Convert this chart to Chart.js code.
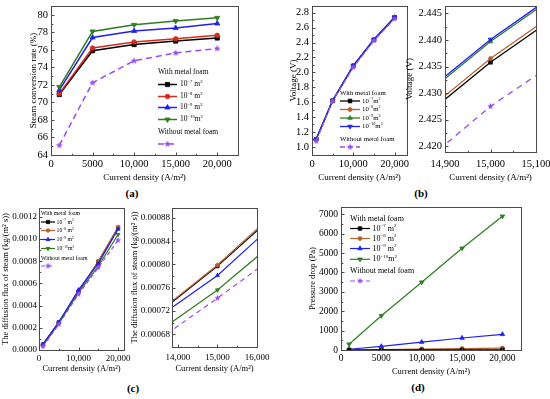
<!DOCTYPE html>
<html><head><meta charset="utf-8">
<script src="https://cdn.jsdelivr.net/npm/chart.js@4.4.0/dist/chart.umd.min.js"></script>
<style>
html,body{margin:0;padding:0;background:#fff;width:550px;height:399px;overflow:hidden;position:relative;}
canvas{position:absolute;}
.lab{position:absolute;font:bold 11px "Liberation Serif","Times New Roman",serif;transform:translate(-50%,-50%);color:#000;white-space:nowrap;}
</style></head><body>
<div class="lab" style="left:132px;top:193px">(a)</div>
<div class="lab" style="left:421px;top:193px">(b)</div>
<div class="lab" style="left:133px;top:388px">(c)</div>
<div class="lab" style="left:418px;top:387px">(d)</div>
<script>
// ---------------- data ----------------
const currentDensity = [1000, 5000, 10000, 15000, 20000];
const permLabels = ['10|−7| m|2|', '10|−8| m|2|', '10|−9| m|2|', '10|−10|m|2|'];
const permLabelsB = ['10|−7|m|2|', '10|−8|m|2|', '10|−9|m|2|', '10|−10|m|2|'];

// (a) steam conversion rate (%)
const convE7   = [70.9, 75.9, 76.6, 77.0, 77.35];
const convE8   = [71.0, 76.2, 76.9, 77.25, 77.65];
const convE9   = [71.4, 77.4, 78.15, 78.5, 79.0];
const convE10  = [71.75, 78.1, 78.85, 79.3, 79.65];
const convNone = [65.1, 72.25, 74.75, 75.65, 76.15];

// (b) voltage (V)
const voltE7   = [1.10, 1.62, 2.0858, 2.4358, 2.7358];
const voltE8   = [1.10, 1.62, 2.0865, 2.4365, 2.7365];
const voltE9   = [1.10, 1.62, 2.0897, 2.4397, 2.7397];
const voltE10  = [1.10, 1.62, 2.0901, 2.4401, 2.7401];
const voltNone = [1.075, 1.615, 2.0675, 2.4275, 2.7175];

// (c) diffusion flux of steam (kg/(m2 s))
const fluxE7   = [0.00005, 0.00025, 0.000527, 0.000797, 0.001102];
const fluxE8   = [0.00005, 0.00025, 0.000528, 0.000799, 0.001108];
const fluxE9   = [0.00005, 0.00025, 0.000542, 0.000781, 0.00109];
const fluxE10  = [0.00004, 0.00024, 0.000517, 0.000756, 0.001041];
const fluxNone = [0.00003, 0.00023, 0.000503, 0.000742, 0.00099];

// (d) pressure drop (Pa)
const presE7   = [1, 3, 5, 7, 9];
const presE8   = [5, 25, 50, 75, 100];
const presE9   = [40, 190, 410, 620, 810];
const presE10  = [300, 1770, 3500, 5250, 6900];
const presNone = [0, 0, 0, 0, 0];

// tick values / labels
const aXTicks = [0, 5000, 10000, 15000, 20000];
const aXLabels = ['0', '5000', '10,000', '15,000', '20,000'];
const aYTicks = [64, 66, 68, 70, 72, 74, 76, 78, 80];
const aYLabels = ['64', '66', '68', '70', '72', '74', '76', '78', '80'];
const bXTicks = [0, 10000, 20000];
const bXLabels = ['0', '10,000', '20,000'];
const bYTicks = [1.0, 1.2, 1.4, 1.6, 1.8, 2.0, 2.2, 2.4, 2.6, 2.8];
const bYLabels = ['1.0', '1.2', '1.4', '1.6', '1.8', '2.0', '2.2', '2.4', '2.6', '2.8'];
const b2XTicks = [14900, 15000, 15100];
const b2XLabels = ['14,900', '15,000', '15,100'];
const b2YTicks = [2.420, 2.425, 2.430, 2.435, 2.440, 2.445];
const b2YLabels = ['2.420', '2.425', '2.430', '2.435', '2.440', '2.445'];
const cXTicks = [0, 10000, 20000];
const cXLabels = ['0', '10,000', '20,000'];
const cYTicks = [0, 0.0002, 0.0004, 0.0006, 0.0008, 0.0010, 0.0012];
const cYLabels = ['0.0000', '0.0002', '0.0004', '0.0006', '0.0008', '0.0010', '0.0012'];
const c2XTicks = [14000, 15000, 16000];
const c2XLabels = ['14,000', '15,000', '16,000'];
const c2YTicks = [0.00068, 0.00072, 0.00076, 0.00080, 0.00084, 0.00088];
const c2YLabels = ['0.00068', '0.00072', '0.00076', '0.00080', '0.00084', '0.00088'];
const dXTicks = [0, 5000, 10000, 15000, 20000];
const dXLabels = ['0', '5000', '10,000', '15,000', '20,000'];
const dYTicks = [0, 1000, 2000, 3000, 4000, 5000, 6000, 7000];
const dYLabels = ['0', '1000', '2000', '3000', '4000', '5000', '6000', '7000'];

// ---------------- styling ----------------
const FONT = '"Liberation Serif", "Times New Roman", serif';
const C_BLACK = '#000000', C_RED = '#d42a1e', C_BROWN = '#b8602f',
      C_BLUE = '#2020f0', C_GREEN = '#2e7d22', C_PURPLE = '#9a4df0';

function starCanvas(r, color) {
  const s = Math.ceil(r * 2 + 2);
  const c = document.createElement('canvas');
  c.width = s; c.height = s;
  const g = c.getContext('2d');
  g.fillStyle = color;
  g.beginPath();
  for (let i = 0; i < 10; i++) {
    const rr = i % 2 ? r * 0.45 : r;
    const ang = -Math.PI / 2 + i * Math.PI / 5;
    g.lineTo(s / 2 + rr * Math.cos(ang), s / 2 + rr * Math.sin(ang));
  }
  g.closePath(); g.fill();
  return c;
}

function ds(label, values, color, style, rot, dash, r, lw, order) {
  return {
    label,
    data: currentDensity.map((x, i) => ({x, y: values[i]})),
    borderColor: color, backgroundColor: color,
    pointBackgroundColor: color, pointBorderColor: color,
    pointStyle: style, pointRotation: rot, pointRadius: r, pointBorderWidth: 0.8,
    borderWidth: lw, borderDash: dash, tension: 0, order: order
  };
}

const framePlugin = {
  id: 'frame',
  afterDraw(chart) {
    const {ctx, chartArea: a, scales: {x, y}} = chart;
    ctx.save();
    ctx.strokeStyle = '#4a4a4a';
    ctx.lineWidth = 1;
    const L = Math.round(a.left) + 0.5, T = Math.round(a.top) + 0.5,
          R = Math.round(a.right) + 0.5, B = Math.round(a.bottom) + 0.5;
    ctx.strokeRect(L, T, R - L, B - T);
    ctx.beginPath();
    const xt = x.ticks.map(t => t.value), yt = y.ticks.map(t => t.value);
    xt.forEach((v, i) => {
      const px = Math.round(x.getPixelForValue(v)) + 0.5;
      ctx.moveTo(px, B); ctx.lineTo(px, B - 3);
      if (i < xt.length - 1) {
        const pm = Math.round(x.getPixelForValue((v + xt[i + 1]) / 2)) + 0.5;
        ctx.moveTo(pm, B); ctx.lineTo(pm, B - 1.8);
      }
    });
    yt.forEach((v, i) => {
      const py = Math.round(y.getPixelForValue(v)) + 0.5;
      ctx.moveTo(L, py); ctx.lineTo(L + 3, py);
      if (i < yt.length - 1) {
        const pm = Math.round(y.getPixelForValue((v + yt[i + 1]) / 2)) + 0.5;
        ctx.moveTo(L, pm); ctx.lineTo(L + 1.8, pm);
      }
    });
    ctx.stroke();
    ctx.restore();
  }
};

function drawRich(ctx, str, x, y, size) {
  const parts = str.split('|');
  let cx = x;
  parts.forEach((t, i) => {
    if (!t) return;
    const sup = i % 2 === 1;
    const fs = sup ? size * 0.62 : size;
    ctx.font = fs + 'px ' + FONT;
    ctx.fillText(t, cx, sup ? y - size * 0.33 : y);
    cx += ctx.measureText(t).width;
  });
}

function legendPlugin(lg, cl, ct) {
  return {
    id: 'customLegend',
    afterDraw(chart) {
      const ctx = chart.ctx;
      const dss = chart.data.datasets;
      ctx.save();
      ctx.textBaseline = 'middle';
      ctx.textAlign = 'left';
      ctx.fillStyle = '#000';
      const X = lg.x - cl;
      ctx.font = lg.size + 'px ' + FONT;
      ctx.fillText('With metal foam', X, lg.ys[0] - ct);
      ctx.fillText('Without metal foam', X, lg.ys[5] - ct);
      const rows = [[0, 1], [1, 2], [2, 3], [3, 4], [4, 6]];
      rows.forEach(([di, yi]) => {
        const d = dss[di];
        const yy = lg.ys[yi] - ct;
        ctx.save();
        ctx.strokeStyle = d.borderColor;
        ctx.lineWidth = d.borderWidth;
        ctx.setLineDash(d.borderDash || []);
        ctx.beginPath();
        ctx.moveTo(X, yy); ctx.lineTo(X + lg.len, yy);
        ctx.stroke();
        ctx.setLineDash([]);
        ctx.fillStyle = d.pointBackgroundColor;
        ctx.strokeStyle = d.pointBorderColor;
        ctx.lineWidth = d.pointBorderWidth;
        Chart.helpers.drawPoint(ctx, {pointStyle: d.pointStyle, rotation: d.pointRotation, radius: d.pointRadius, borderWidth: d.pointBorderWidth}, X + lg.len / 2, yy);
        ctx.restore();
        ctx.fillStyle = '#000';
        if (di < 4) drawRich(ctx, lg.labels[di], X + lg.len + lg.gap, yy, lg.size);
      });
      ctx.restore();
    }
  };
}

function makePanel(p) {
  const lh = p.titleSize * 1.2;
  const cl = Math.round(p.yTitleX - lh / 2);
  const ct = p.T - 10;
  const cr = p.R + 22;
  const cb = Math.round(p.xTitleY + lh / 2);
  const cv = document.createElement('canvas');
  cv.width = cr - cl; cv.height = cb - ct;
  cv.style.left = cl + 'px'; cv.style.top = ct + 'px';
  document.body.appendChild(cv);
  const yW = p.L - cl, xH = cb - p.B;
  const tickFont = {family: FONT, size: p.tickSize};
  const titleFont = {family: FONT, size: p.titleSize};
  const plugins = [framePlugin];
  if (p.legend) plugins.push(legendPlugin(p.legend, cl, ct));
  new Chart(cv, {
    type: 'line',
    data: {datasets: p.datasets},
    options: {
      responsive: false, animation: false, devicePixelRatio: 1,
      layout: {padding: {left: 0, top: p.T - ct, right: cr - p.R, bottom: 0}},
      plugins: {legend: {display: false}, tooltip: {enabled: false}},
      scales: {
        x: {
          type: 'linear', position: 'bottom', min: p.xMin, max: p.xMax,
          afterFit: s => { s.height = xH; },
          afterBuildTicks: s => { s.ticks = p.xTicks.map(v => ({value: v})); },
          ticks: {callback: (v, i) => p.xLabels[i], font: tickFont, color: '#000', padding: p.xPad, maxRotation: 0, autoSkip: false, includeBounds: false},
          grid: {display: false, drawTicks: false}, border: {display: false},
          title: {display: true, text: p.xTitle, font: titleFont, color: '#000', padding: 0}
        },
        y: {
          type: 'linear', position: 'left', min: p.yMin, max: p.yMax,
          afterFit: s => { s.width = yW; },
          afterBuildTicks: s => { s.ticks = p.yTicks.map(v => ({value: v})); },
          ticks: {callback: (v, i) => p.yLabels[i], font: tickFont, color: '#000', padding: p.yPad, autoSkip: false, includeBounds: false},
          grid: {display: false, drawTicks: false}, border: {display: false},
          title: {display: true, text: p.yTitle, font: titleFont, color: '#000', padding: 0}
        }
      }
    },
    plugins
  });
}

const XT = 'Current density (A/m²)';

// (a)
makePanel({
  L: 51, T: 6, R: 238, B: 155, yTitleX: 33, xTitleY: 178,
  titleSize: 9, tickSize: 10.5, xPad: 3, yPad: 3,
  xMin: 0, xMax: 22500, yMin: 64, yMax: 81,
  xTicks: aXTicks, xLabels: aXLabels, yTicks: aYTicks, yLabels: aYLabels,
  xTitle: XT, yTitle: 'Steam conversion rate (%)',
  datasets: [
    ds('1e-7', convE7, C_BLACK, 'rect', 0, [], 3, 1.5, 4),
    ds('1e-8', convE8, C_RED, 'circle', 0, [], 2.3, 1.5, 3),
    ds('1e-9', convE9, C_BLUE, 'triangle', 0, [], 3, 1.5, 2),
    ds('1e-10', convE10, C_GREEN, 'triangle', 180, [], 3, 1.5, 1),
    ds('none', convNone, C_PURPLE, starCanvas(3.6, C_PURPLE), 0, [6, 4], 3, 1.5, 0)
  ],
  legend: {x: 158, len: 19, gap: 3, size: 7.5, labels: permLabels, ys: [72, 84.5, 96.5, 107.5, 119.5, 132, 144]}
});

// (b) left
makePanel({
  L: 312, T: 6, R: 407, B: 155, yTitleX: 293, xTitleY: 178,
  titleSize: 9, tickSize: 10.5, xPad: 3, yPad: 3,
  xMin: 0, xMax: 23000, yMin: 0.89, yMax: 2.89,
  xTicks: bXTicks, xLabels: bXLabels, yTicks: bYTicks, yLabels: bYLabels,
  xTitle: XT, yTitle: 'Voltage (V)',
  datasets: [
    ds('1e-7', voltE7, C_BLACK, 'rect', 0, [], 2.6, 1.3, 4),
    ds('1e-8', voltE8, C_BROWN, 'circle', 0, [], 2, 1.3, 3),
    ds('1e-9', voltE9, C_GREEN, 'triangle', 0, [], 2.6, 1.3, 2),
    ds('1e-10', voltE10, C_BLUE, 'triangle', 180, [], 2.6, 1.3, 1),
    ds('none', voltNone, C_PURPLE, starCanvas(3.4, C_PURPLE), 0, [5, 3], 3, 1.3, 0)
  ],
  legend: {x: 340, len: 20, gap: 2, size: 6.8, labels: permLabelsB, ys: [93.5, 101, 109.5, 118, 126.5, 139, 147]}
});

// (b) right (zoom)
makePanel({
  L: 445, T: 6, R: 536, B: 152, yTitleX: 409, xTitleY: 178,
  titleSize: 9, tickSize: 10.5, xPad: 6, yPad: 3,
  xMin: 14900, xMax: 15100, yMin: 2.4189, yMax: 2.4464,
  xTicks: b2XTicks, xLabels: b2XLabels, yTicks: b2YTicks, yLabels: b2YLabels,
  xTitle: XT, yTitle: 'Voltage (V)',
  datasets: [
    ds('1e-7', voltE7, C_BLACK, 'rect', 0, [], 2.6, 1.3, 4),
    ds('1e-8', voltE8, C_BROWN, 'circle', 0, [], 2, 1.3, 3),
    ds('1e-9', voltE9, C_GREEN, 'triangle', 0, [], 2.6, 1.3, 2),
    ds('1e-10', voltE10, C_BLUE, 'triangle', 180, [], 2.6, 1.3, 1),
    ds('none', voltNone, C_PURPLE, starCanvas(3.4, C_PURPLE), 0, [6, 5], 3, 1.3, 0)
  ]
});

// (c) left
makePanel({
  L: 39, T: 208, R: 124, B: 350, yTitleX: 6, xTitleY: 369,
  titleSize: 8.5, tickSize: 9, xPad: 3, yPad: 2,
  xMin: 0, xMax: 21500, yMin: 0, yMax: 0.00128,
  xTicks: cXTicks, xLabels: cXLabels, yTicks: cYTicks, yLabels: cYLabels,
  xTitle: XT, yTitle: 'The diffusion flux of steam (kg/(m² s))',
  datasets: [
    ds('1e-7', fluxE7, C_BLACK, 'rect', 0, [], 2.3, 1.2, 4),
    ds('1e-8', fluxE8, C_BROWN, 'circle', 0, [], 1.8, 1.2, 3),
    ds('1e-9', fluxE9, C_BLUE, 'triangle', 0, [], 2.3, 1.2, 1),
    ds('1e-10', fluxE10, C_GREEN, 'triangle', 180, [], 2.3, 1.2, 2),
    ds('none', fluxNone, C_PURPLE, starCanvas(3.2, C_PURPLE), 0, [4, 3], 3, 1.2, 0)
  ],
  legend: {x: 41, len: 14, gap: 1.5, size: 5.8, labels: permLabels, ys: [213, 222, 230.5, 239.5, 248.5, 258, 266]}
});

// (c) right (zoom)
makePanel({
  L: 172, T: 208, R: 257, B: 347, yTitleX: 135, xTitleY: 369,
  titleSize: 8.5, tickSize: 9, xPad: 5, yPad: 2,
  xMin: 13850, xMax: 16000, yMin: 0.000658, yMax: 0.000897,
  xTicks: c2XTicks, xLabels: c2XLabels, yTicks: c2YTicks, yLabels: c2YLabels,
  xTitle: XT, yTitle: 'The diffusion flux of steam (kg/(m² s))',
  datasets: [
    ds('1e-7', fluxE7, C_BLACK, 'rect', 0, [], 2.3, 1.2, 4),
    ds('1e-8', fluxE8, C_BROWN, 'circle', 0, [], 1.8, 1.2, 3),
    ds('1e-9', fluxE9, C_BLUE, 'triangle', 0, [], 2.3, 1.2, 2),
    ds('1e-10', fluxE10, C_GREEN, 'triangle', 180, [], 2.3, 1.2, 1),
    ds('none', fluxNone, C_PURPLE, starCanvas(3.2, C_PURPLE), 0, [5, 4], 3, 1.2, 0)
  ]
});

// (d)
makePanel({
  L: 341, T: 207, R: 521, B: 350, yTitleX: 313, xTitleY: 372,
  titleSize: 8.5, tickSize: 9.5, xPad: 3, yPad: 3,
  xMin: 0, xMax: 22300, yMin: 0, yMax: 7380,
  xTicks: dXTicks, xLabels: dXLabels, yTicks: dYTicks, yLabels: dYLabels,
  xTitle: XT, yTitle: 'Pressure drop (Pa)',
  datasets: [
    ds('1e-7', presE7, C_BLACK, 'rect', 0, [], 2.5, 1.2, 1),
    ds('1e-8', presE8, C_BROWN, 'circle', 0, [], 2, 1.2, 2),
    ds('1e-9', presE9, C_BLUE, 'triangle', 0, [], 2.6, 1.2, 3),
    ds('1e-10', presE10, C_GREEN, 'triangle', 180, [], 2.6, 1.2, 4),
    ds('none', presNone, C_PURPLE, starCanvas(3.2, C_PURPLE), 0, [5, 3], 3, 1.2, 5)
  ],
  legend: {x: 350, len: 20, gap: 2.5, size: 8, labels: permLabels, ys: [219, 228.5, 238.5, 248.5, 259.3, 271, 281]}
});
</script>
</body></html>
